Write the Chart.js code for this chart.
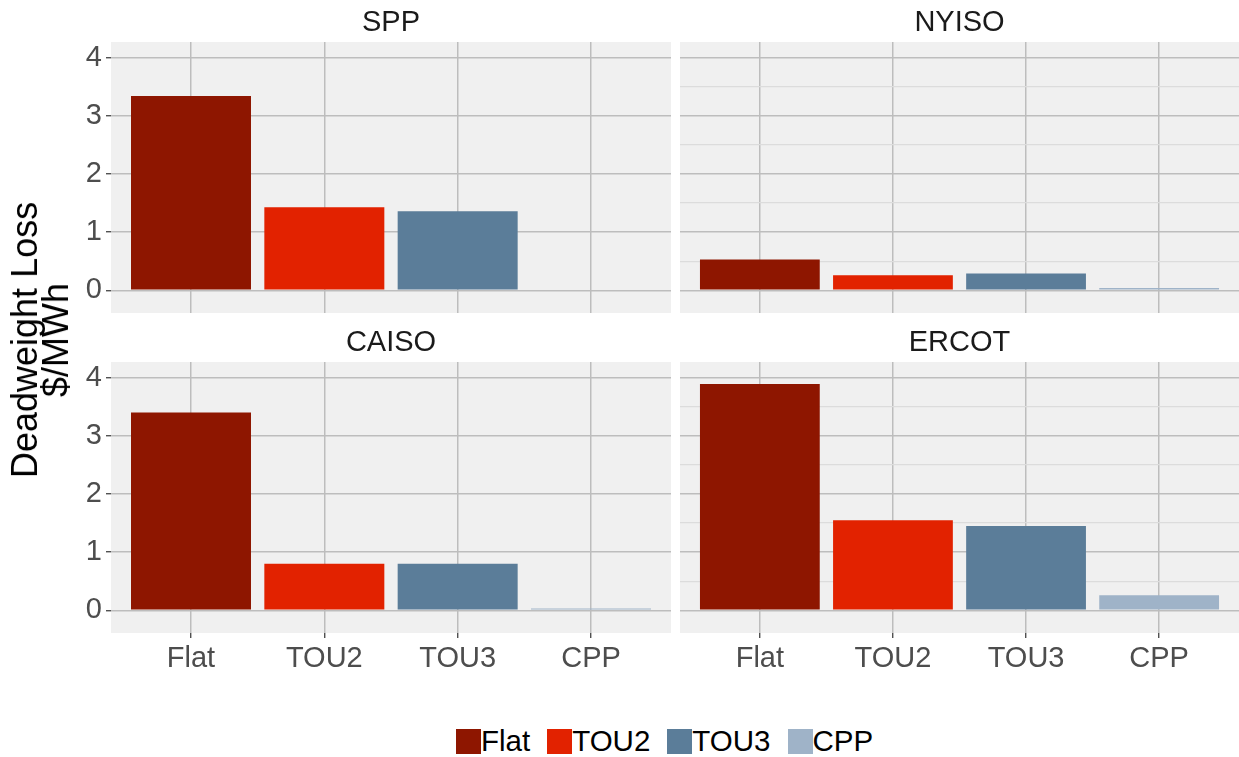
<!DOCTYPE html>
<html>
<head>
<meta charset="utf-8">
<script src="https://cdn.jsdelivr.net/npm/chart.js@4.4.0/dist/chart.umd.min.js"></script>
<style>
  body { margin: 0; background: #fff; width: 1239px; height: 757px; overflow: hidden; position: relative; font-family: "Liberation Sans", Arial, sans-serif; }
  canvas { position: absolute; }
  #ytitle { position: absolute; left: 40px; top: 340px; transform: translate(-50%, -50%) rotate(-90deg); text-align: center; font-size: 36px; line-height: 31px; white-space: nowrap; color: #000; }
  #legend { position: absolute; left: 456px; top: 727px; display: flex; align-items: center; font-size: 29.5px; line-height: 28px; color: #000; }
  #legend .item { display: flex; align-items: center; margin-right: 17px; }
  #legend .key { width: 25px; height: 25px; }
</style>
</head>
<body>
<canvas id="spp" width="671" height="313" style="left:0;top:0"></canvas>
<canvas id="nyiso" width="559" height="313" style="left:680px;top:0"></canvas>
<canvas id="caiso" width="671" height="353" style="left:0;top:320px"></canvas>
<canvas id="ercot" width="559" height="353" style="left:680px;top:320px"></canvas>
<div id="ytitle">Deadweight Loss<br>$/MWh</div>
<div id="legend"></div>
<script>
const categories = ['Flat', 'TOU2', 'TOU3', 'CPP'];
const categoryColors = ['#8E1600', '#E22200', '#5B7D99', '#9FB3C8'];
const regions = ['SPP', 'NYISO', 'CAISO', 'ERCOT'];
const sppValues = [3.34, 1.43, 1.36, 0];
const nyisoValues = [0.53, 0.26, 0.29, 0.04];
const caisoValues = [3.40, 0.80, 0.80, 0.03];
const ercotValues = [3.89, 1.55, 1.45, 0.26];
const yTicks = [0, 1, 2, 3, 4];

const FONT = '"Liberation Sans", Arial, sans-serif';
const MAJOR = '#BDBDBD';
const MINOR = '#DCDCDC';

// ggplot-ish panel background
const panelBg = {
  id: 'panelBg',
  beforeDraw(chart) {
    const a = chart.chartArea;
    chart.ctx.save();
    chart.ctx.fillStyle = '#F0F0F0';
    chart.ctx.fillRect(a.left, a.top, a.right - a.left, a.bottom - a.top);
    chart.ctx.restore();
  }
};

function makePanel(id, title, values, showY, showX) {
  // majors plus the half-way minor lines
  const yAll = [];
  yTicks.forEach((t, i) => { yAll.push(t); if (i < yTicks.length - 1) yAll.push(t + 0.5); });

  return new Chart(document.getElementById(id), {
    type: 'bar',
    data: {
      datasets: [{
        data: values.map((v, i) => ({ x: i + 1, y: v })),
        backgroundColor: categoryColors,
        borderWidth: 0,
        barPercentage: 0.9,
        categoryPercentage: 1.0
      }]
    },
    options: {
      responsive: false,
      animation: false,
      devicePixelRatio: 1,
      layout: { padding: 0 },
      plugins: {
        legend: { display: false },
        tooltip: { enabled: false },
        title: {
          display: true,
          text: title,
          fullSize: false,
          color: '#1A1A1A',
          font: { family: FONT, size: 29, weight: 'normal', lineHeight: 1 },
          padding: { top: 8, bottom: 5 }
        }
      },
      scales: {
        x: {
          type: 'linear',
          offset: false,
          min: 0.4,
          max: 4.6,
          afterBuildTicks: s => { s.ticks = categories.map((c, i) => ({ value: i + 1 })); },
          afterFit: s => { s.height = showX ? 40 : 0; s.paddingLeft = 0; s.paddingRight = 0; },
          ticks: {
            display: showX,
            autoSkip: false,
            maxRotation: 0,
            callback: v => categories[v - 1],
            color: '#4D4D4D',
            font: { family: FONT, size: 29 },
            padding: 4
          },
          grid: { offset: false, color: MAJOR, lineWidth: 1.5, drawTicks: showX, tickLength: 5, tickColor: '#333', tickWidth: 1.2 },
          border: { display: false }
        },
        y: {
          min: -0.39,
          max: 4.27,
          afterBuildTicks: s => { s.ticks = yAll.map(v => ({ value: v })); },
          afterFit: s => { s.width = showY ? 111 : 0; s.paddingTop = 0; s.paddingBottom = 0; },
          ticks: {
            display: showY,
            callback: v => (Number.isInteger(v) ? v : ''),
            color: '#4D4D4D',
            font: { family: FONT, size: 29 },
            padding: 4
          },
          grid: {
            color: ctx => (Number.isInteger(ctx.tick.value) ? MAJOR : MINOR),
            lineWidth: ctx => (Number.isInteger(ctx.tick.value) ? 1.5 : 1.2),
            drawTicks: showY,
            tickLength: 5,
            tickWidth: 1.2,
            tickColor: ctx => (Number.isInteger(ctx.tick.value) ? '#333' : 'rgba(0,0,0,0)')
          },
          border: { display: false }
        }
      }
    },
    plugins: [panelBg]
  });
}

makePanel('spp', regions[0], sppValues, true, false);
makePanel('nyiso', regions[1], nyisoValues, false, false);
makePanel('caiso', regions[2], caisoValues, true, true);
makePanel('ercot', regions[3], ercotValues, false, true);

// shared legend
const legend = document.getElementById('legend');
categories.forEach((c, i) => {
  const item = document.createElement('div');
  item.className = 'item';
  item.innerHTML = '<span class="key" style="background:' + categoryColors[i] + '"></span><span>' + c + '</span>';
  legend.appendChild(item);
});
</script>
</body>
</html>
